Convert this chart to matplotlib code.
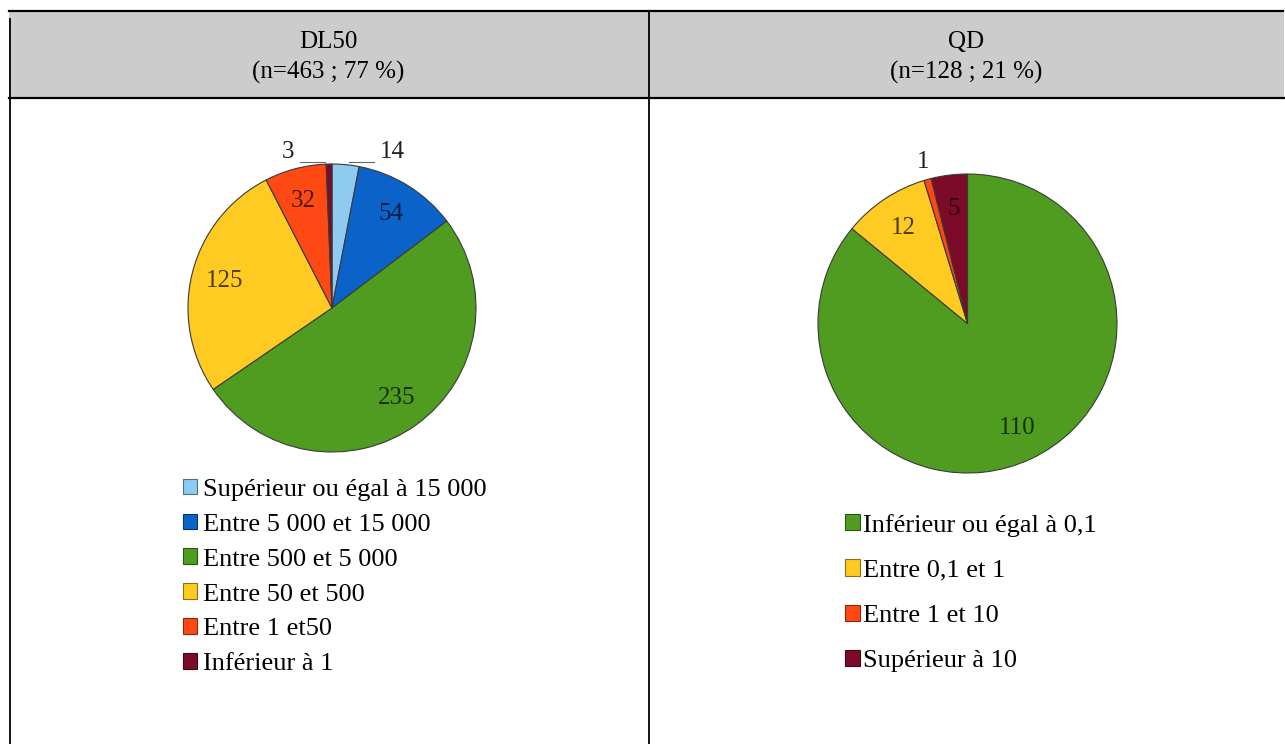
import matplotlib
matplotlib.use('Agg')
import matplotlib.pyplot as plt
from matplotlib.patches import Patch, Rectangle
from matplotlib.colors import to_rgb
import numpy as np

plt.rcParams['font.family'] = ['Liberation Serif', 'DejaVu Serif']

W, H = 1285, 744

# ---- data ----
header_titles = ["DL50", "QD"]
header_subtitles = ["(n=463 ; 77 %)", "(n=128 ; 21 %)"]

dl50_labels = ["Supérieur ou égal à 15 000", "Entre 5 000 et 15 000", "Entre 500 et 5 000",
               "Entre 50 et 500", "Entre 1 et50", "Inférieur à 1"]
dl50_values = [14, 54, 235, 125, 32, 3]
dl50_colors = ['#8fcaf0', '#0b63c9', '#4f9c21', '#ffcb22', '#ff4915', '#7b0b28']

qd_labels = ["Inférieur ou égal à 0,1", "Entre 0,1 et 1", "Entre 1 et 10", "Supérieur à 10"]
qd_values = [110, 12, 1, 5]
qd_colors = ['#4f9c21', '#ffcb22', '#ff4915', '#7b0b28']

FS_HEAD = 18
FS_LAB = 18
FS_LEG = 19


def darken(c, f):
    r, g, b = to_rgb(c)
    return (r * f, g * f, b * f)


fig = plt.figure(figsize=(W / 100, H / 100), dpi=100)
bg = fig.add_axes([0, 0, 1, 1])
bg.set_xlim(0, W)
bg.set_ylim(H, 0)
bg.axis('off')

# table frame
bg.add_patch(Rectangle((9, 11), 1275, 87, facecolor='#cccccc', edgecolor='none'))
bg.plot([9, 1283], [11, 11], color='black', lw=1.6)
bg.plot([9, 1284], [98, 98], color='black', lw=1.6)
bg.plot([9.5, 9.5], [19, H], color='black', lw=1.3)
bg.plot([648.5, 648.5], [11, H], color='black', lw=1.3)

col_centers = [328.5, 966]
for cx, t, s in zip(col_centers, header_titles, header_subtitles):
    bg.text(cx, 42, t, ha='center', va='center', fontsize=FS_HEAD)
    bg.text(cx, 72, s, ha='center', va='center', fontsize=FS_HEAD)


def pie_axes(cx, cy, r):
    return fig.add_axes([(cx - r) / W, (H - cy - r) / H, 2 * r / W, 2 * r / H])


def draw_pie(ax, values, colors):
    total = sum(values)
    wedges, texts, autotexts = ax.pie(
        values, colors=colors, startangle=90, counterclock=False, radius=1,
        wedgeprops=dict(edgecolor='#3a3a3a', linewidth=0.8),
        autopct=lambda p: f"{int(round(p * total / 100))}", pctdistance=0.77,
        textprops=dict(fontsize=FS_LAB))
    for w, t, c in zip(wedges, autotexts, colors):
        t.set_color(darken(c, 0.3))
    ax.set_xlim(-1, 1)
    ax.set_ylim(-1, 1)
    ax.set_aspect('equal')
    return wedges, autotexts


# DL50 pie
ax1 = pie_axes(332, 308, 144)
w1, at1 = draw_pie(ax1, dl50_values, dl50_colors)
for idx, side in [(0, 1), (5, -1)]:
    w = w1[idx]
    mid = np.deg2rad((w.theta1 + w.theta2) / 2)
    ex = np.cos(mid)
    tx = ex + side * 0.24
    at1[idx].set_position((tx, 1.083))
    at1[idx].set_ha('left' if side > 0 else 'right')
    at1[idx].set_color('#222222')
    ax1.plot([ex + side * 0.025, tx - side * 0.04], [1.014, 1.014], color='#666666', lw=0.8,
             clip_on=False)

# QD pie
ax2 = pie_axes(967.5, 323.5, 149.5)
w2, at2 = draw_pie(ax2, qd_values, qd_colors)
w = w2[2]
mid = np.deg2rad((w.theta1 + w.theta2) / 2)
at2[2].set_position((np.cos(mid) * 1.12, np.sin(mid) * 1.12))
at2[2].set_color('#222222')

# legends
h1 = [Patch(facecolor=c, edgecolor=darken(c, 0.55), lw=0.8) for c in dl50_colors]
leg1 = bg.legend(h1, dl50_labels, loc='center left', bbox_to_anchor=(183, 577),
                 bbox_transform=bg.transData, frameon=False, fontsize=FS_LEG,
                 handlelength=0.52, handleheight=0.52, handletextpad=0.22,
                 labelspacing=0.49, borderpad=0, borderaxespad=0)
bg.add_artist(leg1)

h2 = [Patch(facecolor=c, edgecolor=darken(c, 0.55), lw=0.8) for c in qd_colors]
bg.legend(h2, qd_labels, loc='center left', bbox_to_anchor=(845, 593),
          bbox_transform=bg.transData, frameon=False, fontsize=FS_LEG,
          handlelength=0.56, handleheight=0.56, handletextpad=0.12,
          labelspacing=0.87, borderpad=0, borderaxespad=0)

fig.savefig('out.png', dpi=100)
